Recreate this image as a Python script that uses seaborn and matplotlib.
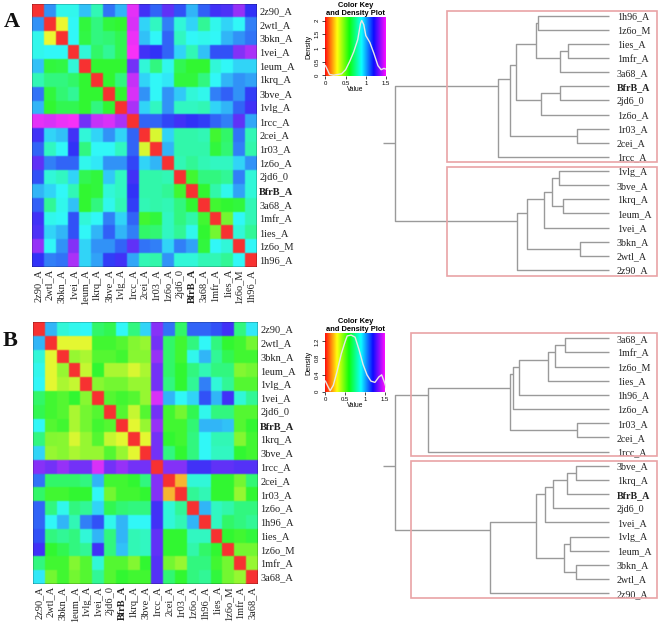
import numpy as np
import matplotlib
matplotlib.use('Agg')
import matplotlib.pyplot as plt
import matplotlib.colors as mcolors
from matplotlib.patches import Rectangle
import seaborn as sns

W, H = 662, 626
SERIF = 'Liberation Serif'
SANS = 'Liberation Sans'

# panel A
names_a = ['2z90_A', '2wtl_A', '3bkn_A', '1vei_A', '1eum_A', '1krq_A', '3bve_A', '1vlg_A', '1rcc_A', '2cei_A',
           '1r03_A', '1z6o_A', '2jd6_0', 'BfrB_A', '3a68_A', '1mfr_A', '1ies_A', '1z6o_M', '1h96_A']
matrix_a = [
    [0, 1.05, .88, .88, .98, .8, 1.1, 1.0, 1.47, 1.22, 1.12, 1.27, 1.15, 1.0, 1.13, 1.22, 1.24, 1.35, 1.2],
    [1.05, 0, .32, .9, .62, .72, .62, .6, 1.45, .95, .82, 1.08, .85, .95, .75, .88, .95, .9, 1.08],
    [.88, .32, 0, .9, .63, .72, .7, .65, 1.48, .98, .9, 1.12, .82, .9, .88, .9, 1.0, 1.05, 1.1],
    [.88, .9, .9, 0, .85, .68, .75, .65, 1.5, 1.22, 1.2, 1.12, .95, .8, .98, 1.15, 1.15, 1.32, 1.38],
    [.98, .62, .63, .85, 0, .6, .6, .6, 1.3, .85, .72, .88, .65, .6, .6, .85, .9, .95, .95],
    [.8, .72, .72, .68, .6, 0, .6, .72, 1.42, .95, .9, .92, .62, .62, .72, .9, 1.0, 1.05, 1.03],
    [1.1, .62, .7, .75, .6, .6, 0, .6, 1.45, 1.05, .9, 1.05, .97, .85, .88, 1.08, 1.13, 1.05, 1.18],
    [1.0, .6, .65, .65, .6, .72, .6, 0, 1.38, .95, .82, 1.05, .82, .82, .8, .95, 1.0, 1.12, 1.22],
    [1.47, 1.45, 1.48, 1.5, 1.3, 1.42, 1.45, 1.38, 0, 1.12, 1.12, 1.17, 1.22, 1.2, 1.18, 1.12, 1.08, 1.27, 1.02],
    [1.22, .95, .98, 1.22, .85, .95, 1.05, .95, 1.12, 0, .35, .95, .78, .78, .8, .58, .68, 1.1, .8],
    [1.12, .82, .9, 1.2, .72, .9, .9, .82, 1.12, .35, 0, 1.0, .78, .78, .78, .62, .7, 1.08, .78],
    [1.27, 1.08, 1.12, 1.12, .88, .92, 1.05, 1.05, 1.17, .95, 1.0, 0, .8, .75, .8, .82, .82, .95, 1.05],
    [1.15, .85, .82, .95, .65, .62, .97, .82, 1.22, .78, .78, .8, 0, .58, .72, .72, .75, 1.08, .85],
    [1.0, .95, .9, .8, .6, .62, .85, .82, 1.2, .78, .78, .75, .58, 0, .6, .78, .88, 1.03, .85],
    [1.13, .75, .88, .98, .6, .72, .88, .8, 1.18, .8, .78, .8, .72, .6, 0, .58, .6, .62, .8],
    [1.22, .88, .9, 1.15, .85, .9, 1.08, .95, 1.12, .58, .62, .82, .72, .78, .58, 0, .5, .9, .8],
    [1.24, .95, 1.0, 1.15, .9, 1.0, 1.13, 1.0, 1.08, .68, .7, .82, .75, .88, .6, .5, 0, .85, .75],
    [1.35, .9, 1.05, 1.32, .95, 1.05, 1.05, 1.12, 1.27, 1.1, 1.08, .95, 1.08, 1.03, .62, .9, .85, 0, .9],
    [1.2, 1.08, 1.1, 1.38, .95, 1.03, 1.18, 1.22, 1.02, .8, .78, 1.05, .85, .85, .8, .8, .75, .9, 0],
]
density_x_a = [0, .05, .1, .2, .4, .5, .6, .7, .8, .87, .9, .95, 1.0, 1.1, 1.2, 1.3, 1.38, 1.45, 1.5]
density_y_a = [.35, .2, .03, 0, .05, .2, .5, .85, 1.3, 1.9, 2.0, 1.85, 1.45, 1.2, .8, .35, .2, .25, .22]
leaves_a = ['1h96_A', '1z6o_M', '1ies_A', '1mfr_A', '3a68_A', 'BfrB_A', '2jd6_0', '1z6o_A', '1r03_A', '2cei_A',
            '1rcc_A', '1vlg_A', '3bve_A', '1krq_A', '1eum_A', '1vei_A', '3bkn_A', '2wtl_A', '2z90_A']
# ints refer to an earlier merge in the same list
merges_a = [('1h96_A', '1z6o_M'), ('1ies_A', '1mfr_A'), (1, '3a68_A'), (0, 2), ('BfrB_A', '2jd6_0'), (4, '1z6o_A'),
            (3, 5), ('1r03_A', '2cei_A'), (6, 7), (8, '1rcc_A'), ('1vlg_A', '3bve_A'), ('1krq_A', '1eum_A'),
            (10, 11), (12, '1vei_A'), ('3bkn_A', '2wtl_A'), (13, 14), (15, '2z90_A'), (9, 16)]
heights_a = [.478, .278, .329, .489, .329, .456, .624, .213, .664, .744, .336, .307, .382, .436, .196, .551, .613, 1.429]

# panel B
names_b = ['2z90_A', '2wtl_A', '3bkn_A', '1eum_A', '1vlg_A', '1vei_A', '2jd6_0', 'BfrB_A', '1krq_A', '3bve_A',
           '1rcc_A', '2cei_A', '1r03_A', '1z6o_A', '1h96_A', '1ies_A', '1z6o_M', '1mfr_A', '3a68_A']
matrix_b = [
    [0, 1.0, .85, .88, .9, .68, .65, .9, .72, .95, 1.33, 1.1, .68, 1.12, 1.12, 1.15, 1.22, .72, .92],
    [1.0, 0, .33, .33, .33, .58, .58, .55, .48, .45, 1.3, .68, .58, .72, .9, .72, .6, .58, .5],
    [.85, .33, 0, .45, .42, .55, .55, .58, .47, .47, 1.35, .68, .58, .88, 1.0, .75, .65, .58, .58],
    [.88, .33, .45, 0, .38, .6, .42, .42, .35, .42, 1.3, .68, .6, .72, .8, .72, .72, .48, .5],
    [.9, .33, .42, .38, 0, .47, .5, .5, .45, .45, 1.3, .72, .6, .75, 1.08, .85, .75, .55, .55],
    [.68, .58, .55, .6, .47, 0, .55, .58, .55, .45, 1.45, 1.0, .9, .95, 1.15, 1.0, 1.22, .85, .75],
    [.65, .58, .55, .42, .5, .55, 0, .55, .38, .55, 1.3, .58, .5, .65, .88, .72, .72, .55, .55],
    [.9, .55, .58, .42, .5, .58, .55, 0, .33, .45, 1.35, .58, .58, .7, 1.0, 1.0, .98, .55, .6],
    [.72, .48, .47, .35, .45, .55, .38, .33, 0, .33, 1.3, .6, .58, .72, .9, .8, .8, .48, .58],
    [.95, .45, .47, .42, .45, .45, .55, .45, .33, 0, 1.3, .72, .6, .72, .9, .82, .82, .6, .58],
    [1.33, 1.3, 1.35, 1.3, 1.3, 1.45, 1.3, 1.35, 1.3, 1.3, 0, 1.32, 1.32, 1.22, 1.22, 1.27, 1.27, 1.25, 1.25],
    [1.1, .68, .68, .68, .72, 1.0, .58, .58, .6, .72, 1.32, 0, .2, .85, .85, .6, .6, .5, .7],
    [.68, .58, .58, .6, .6, .9, .5, .58, .58, .6, 1.32, .2, 0, .75, .8, .6, .6, .45, .6],
    [1.12, .72, .88, .72, .75, .95, .65, .7, .72, .72, 1.22, .85, .75, 0, 1.0, .82, .78, .72, .72],
    [1.12, .9, 1.0, .8, 1.08, 1.15, .88, 1.0, .9, .9, 1.22, .85, .8, 1.0, 0, .82, .68, .72, .75],
    [1.15, .72, .75, .72, .85, 1.0, .72, 1.0, .8, .82, 1.27, .6, .6, .82, .82, 0, .6, .58, .62],
    [1.22, .6, .65, .72, .75, 1.22, .72, .98, .8, .82, 1.27, .6, .6, .78, .68, .6, 0, .5, .5],
    [.72, .58, .58, .48, .55, .85, .55, .55, .48, .6, 1.25, .5, .45, .72, .72, .58, .5, 0, .45],
    [.92, .5, .58, .5, .55, .75, .55, .6, .58, .58, 1.25, .7, .6, .72, .75, .62, .5, .45, 0],
]
density_x_b = [0, .05, .12, .2, .3, .4, .5, .55, .65, .75, .85, .95, 1.05, 1.15, 1.25, 1.35, 1.42, 1.5, 1.53]
density_y_b = [.25, .15, .02, .15, .5, .9, 1.2, 1.33, 1.35, 1.3, 1.0, .65, .4, .25, .22, .35, .4, .2, .1]
leaves_b = ['3a68_A', '1mfr_A', '1z6o_M', '1ies_A', '1h96_A', '1z6o_A', '1r03_A', '2cei_A', '1rcc_A', '3bve_A',
            '1krq_A', 'BfrB_A', '2jd6_0', '1vei_A', '1vlg_A', '1eum_A', '3bkn_A', '2wtl_A', '2z90_A']
merges_b = [('3a68_A', '1mfr_A'), (0, '1z6o_M'), (1, '1ies_A'), (2, '1h96_A'), (3, '1z6o_A'), ('1r03_A', '2cei_A'),
            (4, 5), (6, '1rcc_A'), ('3bve_A', '1krq_A'), (8, 'BfrB_A'), (9, '2jd6_0'), (10, '1vei_A'),
            ('1vlg_A', '1eum_A'), ('3bkn_A', '2wtl_A'), (12, 13), (11, 14), (15, '2z90_A'), (7, 16)]
heights_b = [.293, .362, .407, .6, .644, .213, .662, 1.211, .224, .28, .373, .429, .262, .222, .304, .491, .796, 1.429]
root_stem = 1.511

# hue sweep red -> magenta, washed out a bit for the cells as in the scan
hues = np.linspace(0, 300 / 360, 256)
rainbow = mcolors.ListedColormap(mcolors.hsv_to_rgb(np.column_stack([hues, np.full(256, .8), np.full(256, .97)])))
key_rainbow = mcolors.ListedColormap(mcolors.hsv_to_rgb(np.column_stack([hues, np.full(256, .95), np.ones(256)])))

fig = plt.figure(figsize=(W / 100, H / 100), dpi=100)


def px_axes(x0, y0, x1, y1):
    return fig.add_axes([x0 / W, 1 - y1 / H, (x1 - x0) / W, (y1 - y0) / H])


def soften(img, dpi):
    # small blur so the cell edges look like the low-res original
    kernel = np.array([.2, .6, .2])
    out = img.copy()
    for axis in (0, 1):
        out = np.apply_along_axis(lambda r: np.convolve(r, kernel, mode='same'), axis, out)
    edge = img[..., 3] > 0
    out[edge, 3] = img[edge, 3]
    return out, 0, 0


def draw_heatmap(box, matrix, names):
    ax = px_axes(*box)
    sns.heatmap(np.array(matrix), ax=ax, cmap=rainbow, vmin=0, vmax=1.5, cbar=False,
                xticklabels=names, yticklabels=names)
    ax.collections[0].set_agg_filter(soften)
    ax.yaxis.tick_right()
    ax.tick_params(length=0, pad=1.5)
    ax.set_yticklabels(names, rotation=0, family=SERIF, fontsize=7.5, color='#222222')
    ax.set_xticklabels(names, rotation=90, family=SERIF, fontsize=7.5, color='#222222')
    for lab in ax.get_xticklabels() + ax.get_yticklabels():
        if lab.get_text() == 'BfrB_A':
            lab.set_fontweight('bold')
    return ax


def draw_key(box, dens_x, dens_y, xlim, ylim, xticks, yticks, ylabels):
    ax = px_axes(*box)
    gradient = np.linspace(0, 1, 256).reshape(1, -1)
    ax.imshow(gradient, extent=[0, 1.5, ylim[0], ylim[1]], cmap=key_rainbow, aspect='auto')
    sns.lineplot(x=dens_x, y=dens_y, color='#e8e8e8', lw=1, ax=ax, sort=False)
    ax.set_xlim(xlim)
    ax.set_ylim(ylim)
    for side in ax.spines.values():
        side.set_visible(False)
    ax.set_xticks(xticks)
    ax.set_xticklabels([f'{t:g}' for t in xticks], fontsize=4.3, family=SANS)
    ax.set_yticks(yticks)
    ax.set_yticklabels(ylabels, fontsize=4.3, family=SANS, rotation=90, va='center')
    ax.tick_params(length=2.2, width=.5, pad=1.5)
    ax.set_xlabel('Value', fontsize=4.8, family=SANS, labelpad=0)
    ax.set_ylabel('Density', fontsize=5.2, family=SANS, labelpad=1.5)
    ax.set_title('Color Key\nand Density Plot', fontsize=5.4, family=SANS, fontweight='bold', pad=.5, linespacing=1.2)


def draw_tree(box, leaves, merges, heights, label_dx):
    ax = px_axes(*box)
    ax.set_xlim(root_stem, 0)
    ax.set_ylim(len(leaves) - 1, 0)
    ax.axis('off')
    spots = {name: (0.0, float(i), [float(i)]) for i, name in enumerate(leaves)}
    done = []
    line = dict(color='#9a9a9a', lw=1.0, solid_capstyle='butt', clip_on=False)
    for (a, b), h in zip(merges, heights):
        ha, ya, ma = done[a] if isinstance(a, int) else spots[a]
        hb, yb, mb = done[b] if isinstance(b, int) else spots[b]
        ax.plot([ha, h, h, hb], [ya, ya, yb, yb], **line)
        members = ma + mb
        done.append((h, np.mean(members), members))
    ax.plot([done[-1][0], root_stem], [done[-1][1]] * 2, **line)
    for i, name in enumerate(leaves):
        ax.annotate(name, (0, i), xytext=(label_dx, -0.8), textcoords='offset points', va='center', ha='left',
                    family=SERIF, fontsize=7.2, color='#222222',
                    fontweight='bold' if name == 'BfrB_A' else 'normal', annotation_clip=False)


def red_box(x0, y0, x1, y1):
    fig.add_artist(Rectangle((x0 / W, 1 - y1 / H), (x1 - x0) / W, (y1 - y0) / H, transform=fig.transFigure,
                             fill=False, edgecolor='#e9a3a6', lw=1.2))


draw_heatmap((32, 3.5, 257, 267), matrix_a, names_a)
draw_heatmap((33, 322, 258, 584), matrix_b, names_b)

draw_key((325, 17, 386, 76), density_x_a, density_y_a, (-.01, 1.5), (-.03, 2.13),
         [0, .5, 1, 1.5], [0, .5, 1, 1.5, 2], ['0', '0.5', '1', '1.5', '2'])
draw_key((325, 333, 386, 392), density_x_b, density_y_b, (-.01, 1.53), (-.01, 1.4),
         [0, .5, 1, 1.5], [0, .4, .8, 1.2], ['0', '0.4', '0.8', '1.2'])

draw_tree((382.7, 15.7, 609.3, 270), leaves_a, merges_a, heights_a, 5.5)
draw_tree((382.7, 338.3, 609.3, 593.3), leaves_b, merges_b, heights_b, 5.5)

red_box(446.7, 10.7, 657.3, 162.3)
red_box(446.7, 167.3, 657.3, 275.7)
red_box(411.3, 333.3, 657.3, 455.7)
red_box(411.3, 461, 657.3, 598)

fig.text(4 / W, 1 - 27 / H, 'A', family=SERIF, fontweight='bold', fontsize=16, color='#111111')
fig.text(3 / W, 1 - 346 / H, 'B', family=SERIF, fontweight='bold', fontsize=16, color='#111111')

fig.savefig('out.png', dpi=100)
